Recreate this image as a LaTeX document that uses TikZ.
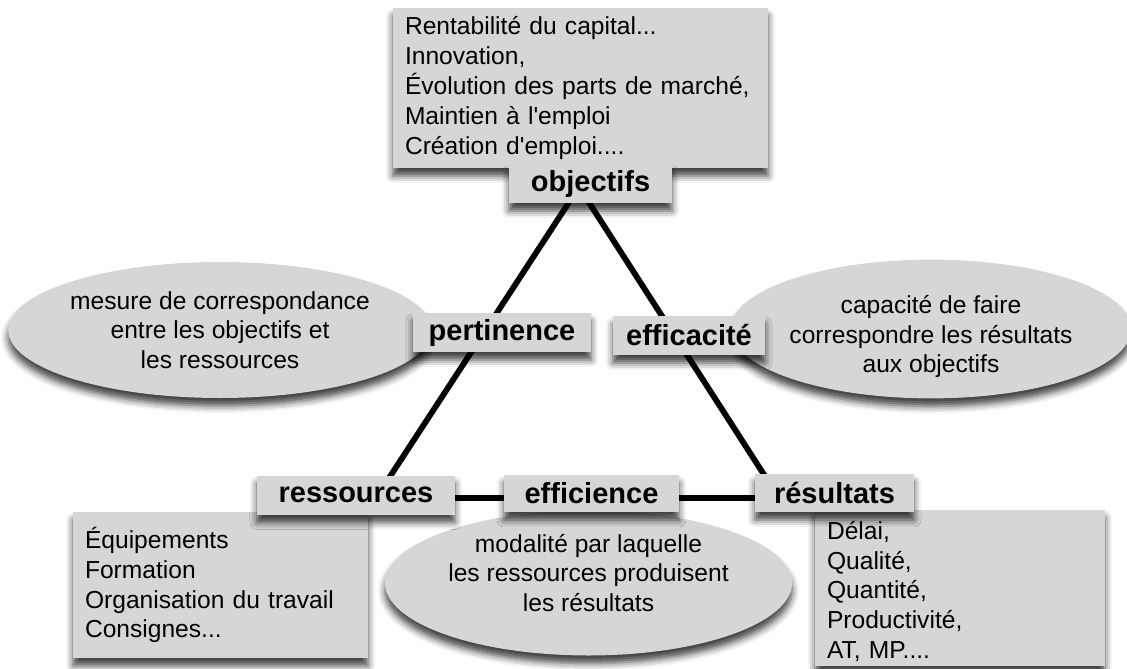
\documentclass[tikz,border=0pt]{standalone}
\usepackage{fontspec}
\setmainfont{Liberation Sans}[Ligatures=TeXOff]
\usepackage{tikz}
\usetikzlibrary{shapes,arrows,positioning,shadows.blur}
\definecolor{boxgray}{HTML}{D6D6D6}
\tikzstyle{ombre} = [blur shadow={shadow xshift=0pt, shadow yshift=-4.5pt, shadow blur radius=4pt, shadow opacity=75}]
\tikzstyle{tbox} = [rectangle, fill=boxgray, ombre, inner xsep=0.24cm, inner ysep=0pt, align=left, font=\fontsize{14}{17}\selectfont]
\tikzstyle{lbox} = [rectangle, fill=boxgray, ombre, inner sep=0pt, font=\fontsize{16.5}{18}\selectfont\bfseries]
\tikzstyle{bulle} = [ellipse, fill=boxgray, ombre, inner sep=0pt, align=center, font=\fontsize{14}{16.8}\selectfont]
\tikzstyle{line} = [draw, line width=3.3pt]

\begin{document}
\begin{tikzpicture}
			\useasboundingbox (0,0) rectangle (22.54,-13.36);
			% le triangle
			\coordinate (sommet) at (11.58, -3.74);
			\coordinate (coinG) at (7.52, -9.96);
			\coordinate (coinD) at (15.58, -9.96);
			\path [line] (sommet) -- (coinG) -- (coinD) -- cycle;

			\node [bulle, minimum width=8cm, minimum height=2.72cm] (bpert) at (4.4, -6.6) {mesure de correspondance\\entre les objectifs et\\les ressources};
			\node [bulle, minimum width=7.44cm, minimum height=2.74cm] (beffic) at (18.62, -6.58) {\rule{0pt}{0.68cm}capacité de faire\\correspondre les résultats\\aux objectifs};
			\node [bulle, minimum width=8.14cm, minimum height=2.9cm] (beffi) at (11.77, -11.66) {modalité par laquelle\\les ressources produisent\\les résultats\rule[-0.42cm]{0pt}{0.42cm}};

			\node [tbox, text width=7.02cm, minimum height=3.2cm] (tobj) at (11.61, -1.76) {Rentabilité du capital...\\Innovation,\\Évolution des parts de marché,\\Maintien à l'emploi\\Création d'emploi....};
			\node [tbox, text width=5.42cm, minimum height=2.92cm] (tres) at (4.41, -11.7) {Équipements\\Formation\\Organisation du travail\\Consignes...};
			\node [tbox, text width=5.32cm, minimum height=3.12cm] (tresu) at (19.2, -11.76) {\rule{0pt}{0.5cm}Délai,\\Qualité,\\Quantité,\\Productivité,\\AT, MP....};

			\node [lbox, minimum width=3.26cm, minimum height=0.76cm] (objectifs) at (11.81, -3.68) {objectifs};
			\node [lbox, minimum width=3.56cm, minimum height=0.78cm] (pertinence) at (10.04, -6.65) {pertinence};
			\node [lbox, minimum width=3.04cm, minimum height=0.78cm] (efficacite) at (13.78, -6.71) {efficacité};
			\node [lbox, minimum width=3.96cm, minimum height=0.78cm] (ressources) at (7.12, -9.9) {ressources};
			\node [lbox, minimum width=3.5cm, minimum height=0.74cm] (efficience) at (11.83, -9.87) {efficience};
			\node [lbox, minimum width=3.18cm, minimum height=0.76cm] (resultats) at (16.69, -9.86) {résultats};
		\end{tikzpicture}
\end{document}
